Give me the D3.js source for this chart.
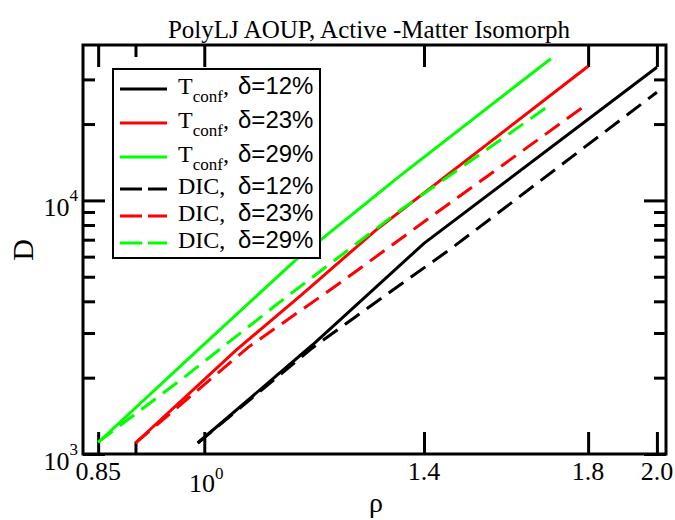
<!DOCTYPE html>
<html>
<head>
<meta charset="utf-8">
<script src="https://cdn.jsdelivr.net/npm/d3@7"></script>
<style>
  html, body { margin: 0; padding: 0; background: #fff; }
  svg { display: block; }
</style>
</head>
<body>
<svg id="chart" width="675" height="520"></svg>
<script>
// ---------------- data ----------------
const rhoT12 = [0.99, 1.18, 1.40, 2.00];
const dT12   = [1105, 2690, 6770, 33500];
const rhoT23 = [0.90, 1.05, 1.16, 1.30, 1.80];
const dT23   = [1105, 2570, 4230, 7620, 33800];
const rhoT29 = [0.85, 0.99, 1.15, 1.35, 1.70];
const dT29   = [1110, 2570, 5810, 12530, 36200];
const rhoD12 = [0.99, 1.18, 1.32, 1.46, 2.00];
const dD12   = [1105, 2620, 4230, 6470, 26700];
const rhoD23 = [0.90, 1.07, 1.23, 1.41, 1.80];
const dD23   = [1105, 2640, 4710, 8490, 24100];
const rhoD29 = [0.85, 0.97, 1.12, 1.35, 1.70];
const dD29   = [1115, 2010, 3930, 9140, 23900];

const legendMain  = ["T", "T", "T", "DIC,", "DIC,", "DIC,"];
const legendDelta = ["\u03b4=12%", "\u03b4=23%", "\u03b4=29%", "\u03b4=12%", "\u03b4=23%", "\u03b4=29%"];
const seriesColors = ["#000000", "#ff0000", "#00ff00", "#000000", "#ff0000", "#00ff00"];
const seriesDashed = [false, false, false, true, true, true];

const xMajorTicks = [0.85, 1.0, 1.4, 1.8, 2.0];
const xMajorLabels = ["0.85", "10^0", "1.4", "1.8", "2.0"];
const xMinorTicks = [0.9];
const yMajorTicks = [1000, 10000];
const yMajorLabels = ["10^3", "10^4"];
const yMinorTicks = [2000, 3000, 4000, 5000, 6000, 7000, 8000, 9000, 20000, 30000];

const titleText = "PolyLJ AOUP, Active -Matter Isomorph";
const xLabel = "\u03c1";
const yLabel = "D";

// ---------------- layout ----------------
const SERIF = "'Liberation Serif', 'Times New Roman', serif";
const SANS = "'Liberation Sans', Arial, sans-serif";
const L = 83, R = 666, T = 45, B = 454;

const svg = d3.select("#chart");
const x = d3.scaleLog().domain([0.8305, 2.028]).range([L, R]);
const y = d3.scaleLog().domain([1000, 41000]).range([B, T]);

const series = [
  rhoT12.map((r, i) => [r, dT12[i]]),
  rhoT23.map((r, i) => [r, dT23[i]]),
  rhoT29.map((r, i) => [r, dT29[i]]),
  rhoD12.map((r, i) => [r, dD12[i]]),
  rhoD23.map((r, i) => [r, dD23[i]]),
  rhoD29.map((r, i) => [r, dD29[i]])
];

// ---------------- axes (ticks inward on all four sides) ----------------
function styleAxis(g) {
  g.select(".domain").remove();
  g.selectAll(".tick line").attr("stroke", "#000").attr("stroke-width", 3);
  g.selectAll(".tick text").remove();
}
const axes = [
  [d3.axisBottom(x).tickValues(xMajorTicks).tickSize(-22), `translate(0,${B})`],
  [d3.axisBottom(x).tickValues(xMinorTicks).tickSize(-12), `translate(0,${B})`],
  [d3.axisTop(x).tickValues(xMajorTicks).tickSize(-22), `translate(0,${T})`],
  [d3.axisTop(x).tickValues(xMinorTicks).tickSize(-12), `translate(0,${T})`],
  [d3.axisLeft(y).tickValues(yMajorTicks).tickSize(-22), `translate(${L},0)`],
  [d3.axisLeft(y).tickValues(yMinorTicks).tickSize(-12), `translate(${L},0)`],
  [d3.axisRight(y).tickValues(yMajorTicks).tickSize(-22), `translate(${R},0)`],
  [d3.axisRight(y).tickValues(yMinorTicks).tickSize(-12), `translate(${R},0)`]
];
axes.forEach(([ax, tr]) => {
  svg.append("g").attr("transform", tr).call(ax.tickFormat("")).call(styleAxis);
});

// ---------------- lines ----------------
const line = d3.line().x(d => x(d[0])).y(d => y(d[1]));
series.forEach((s, i) => {
  svg.append("path")
    .attr("d", line(s))
    .attr("fill", "none")
    .attr("stroke", seriesColors[i])
    .attr("stroke-width", 3)
    .attr("stroke-dasharray", seriesDashed[i] ? "18,9" : null);
});

// frame
svg.append("rect")
  .attr("x", L).attr("y", T).attr("width", R - L).attr("height", B - T)
  .attr("fill", "none").attr("stroke", "#000").attr("stroke-width", 3);

// ---------------- tick labels ----------------
function powLabel(sel, lab, supDy, supSize) {
  const parts = lab.split("^");
  sel.append("tspan").text(parts[0]);
  if (parts.length > 1) {
    sel.append("tspan").attr("dy", supDy).attr("font-size", supSize).text(parts[1]);
  }
}
xMajorTicks.forEach((v, i) => {
  const lab = xMajorLabels[i];
  const isPow = lab.includes("^");
  const t = svg.append("text")
    .attr("x", x(v) + (isPow ? 2 : 0))
    .attr("y", isPow ? 492 : 480)
    .attr("text-anchor", "middle")
    .attr("font-family", SERIF)
    .attr("font-size", 26)
    .attr("fill", "#000");
  powLabel(t, lab, -13, 17);
});
yMajorTicks.forEach((v, i) => {
  const t = svg.append("text")
    .attr("x", 78)
    .attr("y", y(v) + 15.5)
    .attr("text-anchor", "end")
    .attr("font-family", SERIF)
    .attr("font-size", 26)
    .attr("fill", "#000");
  powLabel(t, yMajorLabels[i], -15, 17);
});

// ---------------- title & axis labels ----------------
svg.append("text")
  .attr("x", 369).attr("y", 38)
  .attr("text-anchor", "middle")
  .attr("font-family", SERIF).attr("font-size", 25)
  .text(titleText);
svg.append("text")
  .attr("x", 376).attr("y", 512)
  .attr("text-anchor", "middle")
  .attr("font-family", SERIF).attr("font-size", 28)
  .text(xLabel);
svg.append("text")
  .attr("transform", "translate(33,250) rotate(-90)")
  .attr("text-anchor", "middle")
  .attr("font-family", SERIF).attr("font-size", 30)
  .text(yLabel);

// ---------------- legend ----------------
const lg = svg.append("g");
lg.append("rect")
  .attr("x", 113).attr("y", 69).attr("width", 207).attr("height", 189)
  .attr("fill", "#fff").attr("stroke", "#000").attr("stroke-width", 2);
const rowY = [89, 123, 157, 189, 216, 243];
rowY.forEach((ry, i) => {
  lg.append("line")
    .attr("x1", 120).attr("x2", 167).attr("y1", ry).attr("y2", ry)
    .attr("stroke", seriesColors[i]).attr("stroke-width", 3)
    .attr("stroke-dasharray", seriesDashed[i] ? "22,6" : null);
  const t = lg.append("text")
    .attr("x", 178).attr("y", ry + 5)
    .attr("font-family", SERIF).attr("font-size", 24).attr("fill", "#000");
  if (legendMain[i] === "T") {
    t.append("tspan").text("T");
    t.append("tspan").attr("font-size", 17).attr("dy", 8).text("conf");
    t.append("tspan").attr("dy", -8).text(",");
  } else {
    t.text(legendMain[i]);
  }
  lg.append("text")
    .attr("x", 238).attr("y", ry + 5)
    .attr("font-family", SANS).attr("font-size", 24).attr("fill", "#000")
    .text(legendDelta[i]);
});
</script>
</body>
</html>
